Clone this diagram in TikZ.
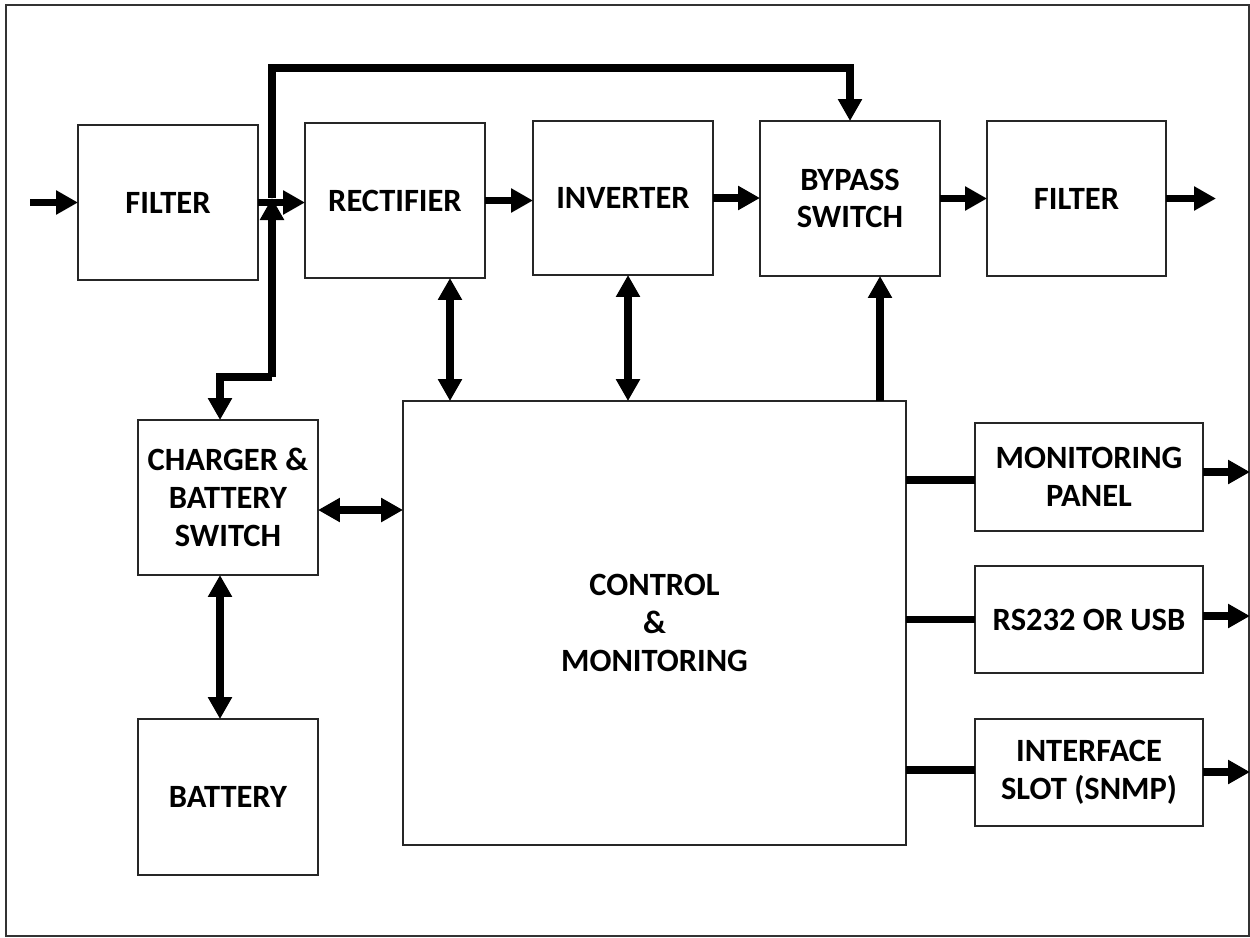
\documentclass[tikz,border=0pt]{standalone}
\usepackage{fontspec}
\setmainfont{Carlito}
\usetikzlibrary{arrows.meta,calc}
\begin{document}
\begin{tikzpicture}[x=0.02cm,y=-0.02cm,
  blk/.style={draw=black!85,line width=0.04cm,inner sep=0pt,outer sep=0pt,align=center,
    font=\fontsize{18.5}{21.5}\selectfont\bfseries},
  wire/.style={line width=0.15cm},
  arr/.style={wire,-{Triangle[length=0.44cm,width=0.46cm]}},
  darr/.style={wire,{Triangle[length=0.44cm,width=0.46cm]}-{Triangle[length=0.44cm,width=0.46cm]}}]
\useasboundingbox (0,0) rectangle (1250,937);
\draw[black!80,line width=0.04cm] (6,5) rectangle (1249,936);
% blocks
\node[blk,minimum width=3.6cm,minimum height=3.1cm] (f1) at (168,202.5) {FILTER};
\node[blk,minimum width=3.6cm,minimum height=3.1cm] (rect) at (395,200.5) {RECTIFIER};
\node[blk,minimum width=3.6cm,minimum height=3.08cm] (inv) at (623,198) {INVERTER};
\node[blk,minimum width=3.6cm,minimum height=3.1cm] (byp) at (850,198.5) {BYPASS\\SWITCH};
\node[blk,minimum width=3.58cm,minimum height=3.1cm] (f2) at (1076.5,198.5) {FILTER};
\node[blk,minimum width=3.6cm,minimum height=3.1cm] (chg) at (228,497.5) {CHARGER \&\\BATTERY\\SWITCH};
\node[blk,minimum width=3.6cm,minimum height=3.12cm] (bat) at (228,797) {BATTERY};
\node[blk,minimum width=10.06cm,minimum height=8.88cm] (ctl) at (654.5,623) {CONTROL\\\&\\MONITORING};
\node[blk,minimum width=4.56cm,minimum height=2.16cm] (mon) at (1089,477) {MONITORING\\PANEL};
\node[blk,minimum width=4.56cm,minimum height=2.14cm] (rs) at (1089,619.5) {RS232 OR USB};
\node[blk,minimum width=4.56cm,minimum height=2.14cm] (intf) at (1089,772.5) {INTERFACE\\SLOT (SNMP)};
% coordinates
\coordinate (in) at (30,202.5);
\coordinate (J) at (272,198);
\coordinate (JB) at (272,377);
\coordinate (T) at (272,68);
\coordinate (out) at (1216,198.5);
\coordinate (mo) at (1250,472);
\coordinate (ro) at (1250,616);
\coordinate (io) at (1250,772);
% main chain
\draw[arr] (in) -- (f1.west);
\draw[arr] (f1.east) -- (f1.east -| rect.west);
\draw[arr] (rect.east) -- (rect.east -| inv.west);
\draw[arr] (inv.east) -- (inv.east -| byp.west);
\draw[arr] (byp.east) -- (byp.east -| f2.west);
\draw[arr] (f2.east) -- (out);
% bypass feed and charger feed
\draw[arr] (J) -- (T) -| (byp.north);
\draw[arr] (JB) -- (J);
\draw[arr] (JB) -| ([xshift=-0.16cm]chg.north);
% control links
\draw[darr] ([xshift=1.1cm]rect.south) -- ([xshift=1.1cm]rect.south |- ctl.north);
\draw[darr] ([xshift=0.1cm]inv.south) -- ([xshift=0.1cm]inv.south |- ctl.north);
\draw[arr] ([xshift=0.6cm]byp.south |- ctl.north) -- ([xshift=0.6cm]byp.south);
\draw[darr] ([yshift=-0.25cm]chg.east) -- ([yshift=-0.25cm]chg.east -| ctl.west);
\draw[darr] ([xshift=-0.16cm]chg.south) -- ([xshift=-0.16cm]bat.north);
% outputs
\draw[wire] ([yshift=-0.06cm]mon.west -| ctl.east) -- ([yshift=-0.06cm]mon.west);
\draw[wire] (rs.west -| ctl.east) -- (rs.west);
\draw[wire] ([yshift=0.05cm]intf.west -| ctl.east) -- ([yshift=0.05cm]intf.west);
\draw[arr] (mon.east |- mo) -- (mo);
\draw[arr] (rs.east |- ro) -- (ro);
\draw[arr] (intf.east |- io) -- (io);
\end{tikzpicture}
\end{document}
